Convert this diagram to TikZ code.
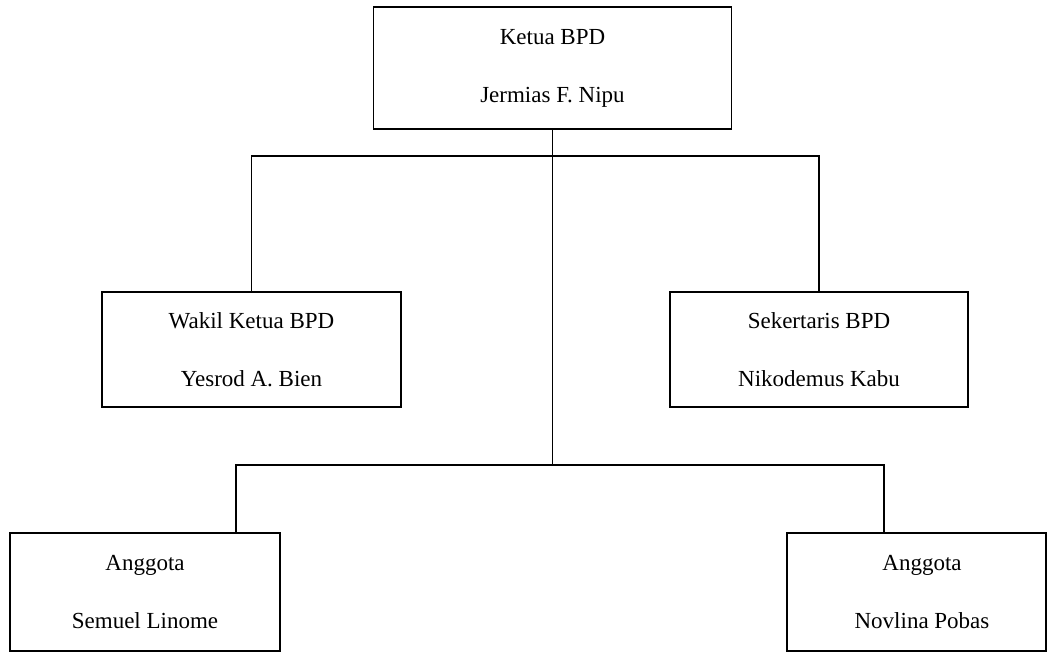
\documentclass[tikz,border=0pt]{standalone}
\usepackage{fontspec}
\setmainfont{Liberation Serif}
\usetikzlibrary{positioning}
\tikzset{
  every node/.style={
    font=\fontsize{23}{58}\selectfont
  },
  jabatan/.style n args={2}{
    shape=rectangle,
    draw=black,
    line width=1.6pt,
    align=center,
    inner sep=0pt,
    minimum width=#1,
    minimum height=#2
  },
  garis/.style={
    line width=1.6pt
  }
}

\begin{document}
\begin{tikzpicture}[x=1pt,y=-1pt]
    \useasboundingbox (0,0) rectangle (1047,652);
    \node [jabatan={358pt}{122pt}] (ketua) at (552.5,68) {Ketua BPD\\Jermias F. Nipu};
    \node [jabatan={299pt}{115pt}] (wakil) at (251.5,349.5) {Wakil Ketua BPD\\Yesrod A. Bien};
    \node [jabatan={298pt}{115pt}] (sekretaris) at (819,349.5) {Sekertaris BPD\\Nikodemus Kabu};
    \node [jabatan={270pt}{118pt}] (anggota1) at (145,592) {Anggota\\Semuel Linome};
    \node [jabatan={259pt}{118pt}] (anggota2) at (916.5,592) {\hspace*{11pt}Anggota\\\hspace*{11pt}Novlina Pobas};
    % titik cabang
    \coordinate (cabang) at (552.5,156);
    \coordinate (simpul) at (552.5,465);
    \coordinate (kiri) at (236,465);
    \coordinate (kanan) at (884,465);
    \draw [garis] (ketua.south) -- (simpul);
    \draw [garis] (wakil.north) |- (cabang) -| (sekretaris.north);
    \draw [garis] (kiri |- anggota1.north) -- (kiri) -- (kanan) -- (kanan |- anggota2.north);
\end{tikzpicture}
\end{document}
